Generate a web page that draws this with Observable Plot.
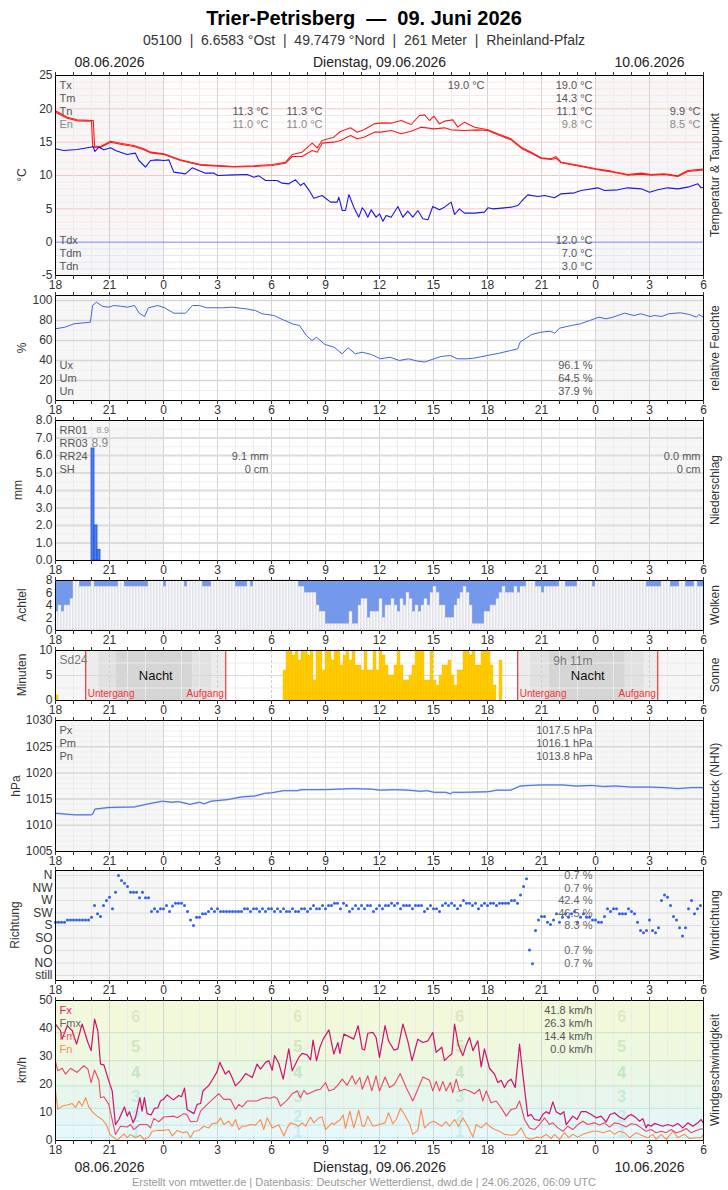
<!DOCTYPE html>
<html><head><meta charset="utf-8">
<script src="https://cdn.jsdelivr.net/npm/d3@7"></script>
<script src="https://cdn.jsdelivr.net/npm/@observablehq/plot@0.6"></script>
<style>
body{margin:0;background:#fff;}
#root{position:relative;width:728px;height:1190px;font-family:"Liberation Sans",Arial,Helvetica,sans-serif;overflow:hidden;background:#fff;}
.t{position:absolute;white-space:pre;line-height:1;}
</style></head><body><div id="root"></div>
<script>
// ---------------- DATA (t = hours since 08.06. 18:00 UTC) ----------------
const title = "Trier-Petrisberg  —  09. Juni 2026";
const subtitle = "05100  |  6.6583 °Ost  |  49.7479 °Nord  |  261 Meter  |  Rheinland-Pfalz";
const footer = "Erstellt von mtwetter.de | Datenbasis: Deutscher Wetterdienst, dwd.de | 24.06.2026, 06:09 UTC";
const dayLabels = [{t:3,s:"08.06.2026"},{t:18,s:"Dienstag, 09.06.2026"},{t:33,s:"10.06.2026"}];
const otherDays = [[0,6],[30,36]];

const tempA = [[0,19.7],[0.65,18.75],[1.2,18.35],[2.1,18.25],[2.17,14.4],[2.5,14.35],[3.06,15.15],[3.61,14.85],[4.35,14.5],[4.91,14.0],[5.28,13.5],[6.02,13.25],[6.94,12.35],[8.06,11.65],[9.02,11.5],[9.91,11.35],[11.02,11.45],[12.04,11.65],[12.78,12.0],[13.15,13.15],[13.7,13.5],[14.26,14.85],[14.54,14.15],[14.81,15.25],[15.46,15.75],[15.83,16.6],[16.39,17.15],[16.76,16.5],[17.13,16.85],[17.72,17.75],[18.09,17.9],[18.65,17.85],[19.2,18.25],[19.76,17.65],[20.22,19.0],[20.5,19.1],[20.78,18.25],[21.02,18.9],[21.33,17.75],[21.61,18.15],[22.07,18.35],[22.35,17.25],[22.72,18.0],[23.28,17.25],[24.02,16.85],[24.57,16.25],[25.31,15.5],[25.87,14.25],[26.43,13.5],[26.98,12.65],[27.54,12.5],[27.81,12.85],[28.09,12.0],[28.83,11.65],[30.04,11.0],[30.87,10.65],[31.8,10.15],[32.54,10.35],[33.09,10.15],[33.83,10.25],[34.57,9.95],[35.13,10.75],[36,10.95]];
const tempB = [[0,19.5],[0.65,18.6],[1.2,18.2],[2.0,18.15],[2.07,14.25],[2.5,14.2],[3.06,15.0],[3.61,14.7],[4.35,14.35],[4.91,13.85],[5.28,13.4],[6.02,13.15],[6.94,12.25],[8.06,11.55],[9.02,11.4],[9.91,11.3],[11.02,11.35],[12.04,11.5],[12.78,11.85],[13.15,12.85],[13.7,12.85],[14.26,13.75],[14.54,13.5],[14.81,14.85],[15.46,15.0],[15.83,15.25],[16.39,16.0],[16.76,15.5],[17.13,15.75],[17.72,16.5],[18.09,16.5],[18.65,16.75],[19.2,16.25],[19.76,16.65],[20.3,17.25],[21.02,17.0],[21.61,17.15],[21.98,16.85],[22.72,16.75],[23.46,16.85],[24.02,16.75],[24.57,16.1],[25.31,15.35],[25.87,14.1],[26.43,13.35],[26.98,12.55],[27.54,12.4],[27.81,12.6],[28.09,11.9],[28.83,11.55],[30.04,10.9],[30.87,10.55],[31.8,10.05],[32.54,10.2],[33.09,10.05],[33.83,10.15],[34.57,9.85],[35.13,10.6],[36,10.85]];
const dewpoint = [[0,14.0],[0.46,13.75],[1.2,13.9],[1.94,14.25],[2.09,14.35],[2.19,13.6],[2.41,14.25],[2.69,13.85],[3.06,14.15],[3.33,13.75],[3.61,13.5],[3.98,13.15],[4.44,13.35],[4.63,12.25],[5.0,11.25],[5.28,12.25],[5.65,12.35],[6.02,12.25],[6.3,12.35],[6.57,10.5],[7.22,10.25],[7.59,11.15],[7.96,10.75],[8.33,10.35],[8.8,10.35],[9.02,10.0],[9.91,10.1],[10.65,10.15],[11.02,9.75],[11.3,9.95],[11.67,9.25],[12.31,9.25],[12.59,8.85],[12.96,8.75],[13.33,9.35],[13.61,8.5],[13.8,8.85],[14.07,7.85],[14.35,6.6],[14.81,7.0],[15.28,6.0],[15.65,6.0],[15.74,6.75],[15.93,4.75],[16.11,4.75],[16.3,7.15],[16.57,5.25],[16.85,3.75],[17.04,5.15],[17.17,4.75],[17.35,3.75],[17.54,4.85],[17.81,3.75],[18.0,4.25],[18.19,3.15],[18.37,4.0],[18.65,3.75],[19.02,5.35],[19.3,3.75],[19.57,4.65],[19.85,3.75],[20.13,4.75],[20.41,3.5],[20.69,3.35],[20.96,5.35],[21.33,4.85],[21.61,5.25],[21.98,6.0],[22.17,4.15],[22.44,5.0],[22.72,4.35],[23.28,4.35],[23.83,4.5],[24.02,5.15],[24.3,5.0],[24.94,5.15],[25.31,5.25],[25.69,5.5],[25.96,6.35],[26.24,7.1],[26.8,6.85],[27.17,7.0],[27.72,6.65],[28.09,7.25],[28.83,7.4],[29.2,7.75],[30.13,8.15],[30.5,7.75],[31.24,7.85],[31.8,8.15],[32.54,8.0],[33.0,7.5],[33.46,7.85],[34.02,8.15],[34.57,8.0],[35.13,8.25],[35.69,8.75],[35.87,8.15],[36,8.25]];
const tempTopNames = ["Tx","Tm","Tn","En"];
const tempTopValues = [{t:24,row:0,s:"19.0 °C"},{t:30,row:0,s:"19.0 °C"},{t:30,row:1,s:"14.3 °C"},{t:30,row:2,s:"11.1 °C"},{t:30,row:3,s:"9.8 °C"},{t:12,row:2,s:"11.3 °C"},{t:12,row:3,s:"11.0 °C"},{t:15,row:2,s:"11.3 °C"},{t:15,row:3,s:"11.0 °C"},{t:36,row:2,s:"9.9 °C"},{t:36,row:3,s:"8.5 °C"}];
const dewNames = ["Tdx","Tdm","Tdn"];
const dewValues = [{t:30,row:0,s:"12.0 °C"},{t:30,row:1,s:"7.0 °C"},{t:30,row:2,s:"3.0 °C"}];

const humidity = [[0,71.7],[0.52,73.3],[1.03,76.7],[1.94,78.3],[2.06,95],[2.27,98.3],[2.63,94],[2.97,93.3],[3.23,95],[3.61,94.3],[4,93.3],[4.39,95],[4.65,87.3],[4.95,84],[5.16,92.7],[5.68,95],[6.06,92.7],[6.58,87.3],[7.23,87.3],[7.61,95],[8,95],[8.39,92.7],[9.29,92.7],[9.81,93.3],[10.58,91.7],[11.1,90],[11.48,86.7],[12.13,85],[12.65,80.7],[13.16,76.7],[13.55,75],[13.94,65],[14.25,60],[14.5,63.3],[14.97,56],[15.48,53.3],[15.92,46.7],[16.26,52.7],[16.65,46.7],[17.03,48.3],[17.55,46],[18.06,41.7],[18.58,43.3],[19.1,40],[19.61,41.7],[20.13,39.3],[20.52,38.5],[21.03,41.7],[21.42,44],[21.94,45],[22.32,41.7],[22.84,41.7],[23.23,42.3],[24,45],[24.65,47.3],[25.29,50],[25.68,51.7],[25.81,58.3],[26.45,66],[26.97,68.3],[27.48,69.3],[27.74,67.3],[28,72.3],[28.65,75],[29.16,76.7],[29.68,80],[30.19,83.3],[30.58,81.7],[30.97,83.3],[31.61,87.3],[32.13,85],[32.52,86.7],[33.03,84],[33.29,85],[33.68,84],[34.06,86.7],[34.71,87.7],[35.23,86],[35.61,83.3],[35.74,86],[36,83.3]];
const humNames = ["Ux","Um","Un"];
const humValues = [{t:30,row:0,s:"96.1 %"},{t:30,row:1,s:"64.5 %"},{t:30,row:2,s:"37.9 %"}];

// precipitation, 10-minute slots
const precip = [{slot:12,mm:6.4},{slot:13,mm:2.0},{slot:14,mm:0.6}];
const precNames = ["RR01","RR03","RR24","SH"];
const precValues = [{t:12,row:2,s:"9.1 mm"},{t:12,row:3,s:"0 cm"},{t:36,row:2,s:"0.0 mm"},{t:36,row:3,s:"0 cm"}];

// cloud cover (octas), 10-minute slots 0..215
const clouds = [
 3,4,3,4,4,5, 8,8,7,7,7,7, 8,7,7,7,7,7, 7,7,7,8,8,7, 7,7,7,7,7,7, 7,8,8,8,8,8,
 7,8,8,8,8,8, 8,7,8,8,8,8, 8,7,7,7,8,8, 8,8,8,8,8,8, 7,7,7,7,8,7, 8,8,8,8,8,8,
 8,8,8,8,8,8, 8,8,8,7,7,6, 6,6,6,4,3,3, 1,1,1,1,1,1, 1,1,3,1,1,4, 5,5,2,3,3,3,
 5,2,4,4,5,4, 3,5,4,6,5,3, 4,3,4,5,4,6, 7,6,4,4,2,2, 2,4,5,6,7,6, 4,1,1,1,1,3,
 3,4,4,5,6,7, 6,6,6,7,6,7, 7,8,8,8,7,7, 6,7,7,7,7,7, 8,8,7,7,7,7, 8,8,8,8,8,7,
 8,8,8,8,8,8, 8,8,8,8,8,8, 8,8,8,8,8,7, 7,7,7,7,8,8, 8,7,7,7,8,8, 7,7,7,8,7,7];

// sunshine minutes per 10-minute slot
const sunEarly = [{slot:0,m:1}];
const sunRunStart = 76;
const sunRun = [6,10,10,9,10,8,10,10,9,10,4,10,10,6,10,10,8,10,10,7,9,10,8,10,7,7,6,10,6,6,10,6,
 10,9,7,5,5,7,10,7,4,4,5,7,10,10,10,4,4,10,4,3,5,7,7,8,5,3,6,6,10,10,9,10,7,7,10,10,10,7,3,0,8];
const nights = [{set:1.68,rise:9.46},{set:25.68,rise:33.46}];
const twilight = [
 {a:1.68,b:2.4,lvl:1},{a:2.4,b:3.37,lvl:2},{a:3.37,b:7.63,lvl:3},{a:7.63,b:8.7,lvl:2},{a:8.7,b:9.46,lvl:1},
 {a:25.68,b:26.37,lvl:1},{a:26.37,b:27.43,lvl:2},{a:27.43,b:31.65,lvl:3},{a:31.65,b:32.7,lvl:2},{a:32.7,b:33.46,lvl:1}];
const sunTotal = "9h 11m";

const pressure = [[0,1012.3],[1.03,1012.0],[1.94,1012.0],[2.06,1012.1],[2.19,1013.1],[2.97,1013.4],[4.39,1013.5],[5.16,1014.1],[5.94,1014.6],[6.45,1014.4],[6.84,1014.5],[7.48,1014.0],[8.0,1014.4],[8.26,1014.1],[8.65,1014.6],[9.55,1014.9],[10.32,1015.4],[11.1,1015.6],[11.61,1016.1],[12.0,1016.2],[12.65,1016.6],[13.42,1016.6],[13.68,1016.8],[14.97,1016.8],[15.74,1016.9],[16.52,1017.0],[17.55,1016.9],[18.06,1016.7],[18.84,1016.8],[19.61,1016.7],[20.26,1016.5],[20.65,1016.6],[21.03,1016.3],[21.68,1016.3],[21.94,1016.0],[22.06,1016.3],[22.71,1016.3],[24.0,1016.4],[24.52,1016.7],[25.29,1016.7],[25.81,1017.5],[26.32,1017.6],[26.97,1017.7],[28.13,1017.7],[28.9,1017.5],[29.81,1017.6],[30.45,1017.4],[31.1,1017.5],[32.0,1017.3],[33.03,1017.3],[33.81,1017.2],[34.58,1017.0],[35.35,1017.2],[36,1017.2]];
const presNames = ["Px","Pm","Pn"];
const presValues = [{t:30,row:0,s:"1017.5 hPa"},{t:30,row:1,s:"1016.1 hPa"},{t:30,row:2,s:"1013.8 hPa"}];

// wind direction (degrees, 0 = still) per 10-minute slot
const windDir = [
 192,192,192,192,200,200, 200,200,200,200,200,200, 210,252,222,212,252,270, 282,240,300,360,342,332,
 320,300,300,300,280,300, 280,280,230,240,230,240, 240,252,230,250,260,260, 260,252,230,200,180,210,
 210,222,222,230,240,230, 240,230,230,230,230,230, 230,230,230,240,240,230, 240,240,230,240,230,240,
 240,230,240,230,240,230, 230,240,230,230,240,240, 230,240,252,240,240,252, 240,252,252,260,260,240,
 260,252,230,240,252,240, 252,240,252,252,230,240, 252,240,252,252,260,252, 260,240,252,252,252,240,
 252,252,252,230,240,252, 240,240,230,252,260,252, 260,252,240,252,270,260, 260,252,260,240,252,260,
 252,260,260,252,260,260, 260,260,270,270,260,290, 320,348,92,42,162,200, 212,212,192,184,200,222,
 192,210,222,210,222,230, 192,210,222,210,210,200, 200,192,192,212,240,230, 240,240,222,222,222,240,
 230,222,192,162,154,162, 200,162,154,172,270,290, 282,252,212,200,172,142, 172,240,270,222,240,252];
const dirCats = [{d:360,n:"N"},{d:315,n:"NW"},{d:270,n:"W"},{d:225,n:"SW"},{d:180,n:"S"},{d:135,n:"SO"},{d:90,n:"O"},{d:45,n:"NO"},{d:0,n:"still"}];
const dirShares = [{d:360,s:"0.7 %"},{d:315,s:"0.7 %"},{d:270,s:"42.4 %"},{d:225,s:"46.5 %"},{d:180,s:"8.3 %"},{d:90,s:"0.7 %"},{d:45,s:"0.7 %"}];

const gust = [[0,41.6],[0.28,39.2],[0.37,36.2],[0.65,41.0],[0.93,39.2],[1.17,34.4],[1.48,41.6],[1.8,35.0],[1.98,32.1],[2.17,43.4],[2.35,39.2],[2.5,27.3],[2.69,27.0],[2.96,21.3],[3.15,17.7],[3.33,5.7],[3.52,7.5],[3.83,12.0],[3.98,8.7],[4.11,10.3],[4.22,8.1],[4.31,6.3],[4.44,8.1],[4.69,15.3],[4.81,10.5],[4.94,15.3],[5.09,9.6],[5.31,9.1],[5.5,11.5],[5.69,11.7],[5.83,14.1],[6.0,14.7],[6.2,16.3],[6.54,14.5],[6.85,16.1],[7.0,15.6],[7.17,18.7],[7.31,11.1],[7.69,9.6],[7.87,12.9],[8.06,13.2],[8.19,17.7],[8.52,19.7],[8.7,21.5],[8.98,24.6],[9.13,27.9],[9.44,23.7],[9.63,24.9],[9.81,22.5],[10.0,19.5],[10.28,21.3],[10.56,23.9],[10.93,22.5],[11.2,27.3],[11.39,25.5],[11.67,27.9],[11.85,28.5],[12.04,25.1],[12.17,30.3],[12.41,27.5],[12.65,21.9],[12.96,32.7],[13.15,24.9],[13.52,29.7],[13.7,31.1],[13.98,30.6],[14.17,28.8],[14.31,35.9],[14.5,28.5],[14.69,33.3],[14.87,36.2],[15.19,39.5],[15.46,30.9],[15.69,35.0],[15.8,31.1],[16.02,38.0],[16.3,37.1],[16.57,36.2],[16.81,41.0],[17.04,32.7],[17.17,32.3],[17.35,38.3],[17.63,38.6],[17.81,36.8],[18.0,29.7],[18.31,41.0],[18.5,35.6],[18.8,32.3],[19.02,32.7],[19.3,41.6],[19.57,35.6],[19.81,28.5],[20.13,36.2],[20.41,35.0],[20.69,35.6],[20.96,38.6],[21.15,31.5],[21.46,33.3],[21.61,28.5],[21.89,30.3],[22.02,30.9],[22.17,41.6],[22.39,33.9],[22.63,30.3],[22.81,33.9],[23.0,36.8],[23.19,32.1],[23.46,35.6],[23.65,26.3],[23.83,32.7],[24.11,25.8],[24.39,23.7],[24.57,20.7],[24.76,21.5],[24.94,18.9],[25.13,21.1],[25.31,21.9],[25.54,18.9],[25.78,34.4],[25.96,23.7],[26.24,8.7],[26.43,9.3],[26.61,7.5],[26.89,7.2],[27.07,9.3],[27.26,10.3],[27.44,9.6],[27.63,13.8],[27.81,10.3],[28.06,9.3],[28.24,10.3],[28.37,5.7],[28.56,7.2],[28.74,8.7],[28.98,7.5],[29.2,10.3],[29.48,10.3],[29.76,9.3],[30.04,8.1],[30.31,8.7],[30.59,6.6],[30.81,9.3],[31.06,9.9],[31.33,8.4],[31.61,7.5],[31.8,8.7],[31.98,9.3],[32.26,8.1],[32.44,6.9],[32.63,7.8],[32.81,4.5],[32.91,5.7],[33.09,5.1],[33.28,6.1],[33.46,5.7],[33.74,5.1],[34.02,5.7],[34.3,5.1],[34.57,6.1],[34.85,4.5],[35.13,6.3],[35.41,5.1],[35.69,6.3],[35.87,7.5],[36,6.1]];
const windMean = [[0,28.2],[0.13,24.9],[0.37,25.8],[0.56,23.7],[0.83,25.8],[1.2,24.3],[1.57,26.7],[1.8,25.5],[1.98,20.7],[2.17,25.2],[2.41,21.5],[2.5,15.3],[2.69,15.6],[2.96,12.9],[3.33,2.2],[3.61,5.1],[3.98,4.8],[4.17,5.7],[4.35,3.9],[4.69,5.7],[5.09,5.7],[5.28,4.5],[5.46,7.9],[5.74,6.7],[6.02,8.4],[6.57,8.7],[6.76,8.1],[7.13,9.6],[7.31,9.1],[7.5,6.7],[7.87,6.9],[8.06,10.5],[8.43,12.9],[8.8,15.1],[9.07,16.7],[9.35,14.7],[9.72,14.7],[10.0,11.1],[10.19,12.9],[10.37,12.0],[10.65,14.1],[11.2,14.1],[11.39,14.7],[11.67,15.3],[11.94,15.1],[12.13,15.6],[12.31,15.1],[12.5,12.3],[12.87,14.4],[13.15,16.7],[13.43,17.7],[13.61,15.3],[13.8,17.9],[13.98,16.5],[14.44,17.9],[14.72,18.3],[15.0,20.7],[15.19,17.7],[15.46,18.3],[15.65,19.5],[15.93,21.9],[16.2,19.7],[16.48,23.1],[16.67,20.1],[16.91,22.5],[17.04,18.3],[17.35,23.1],[17.57,17.7],[17.81,23.1],[18.0,17.7],[18.31,22.7],[18.56,18.9],[18.83,20.1],[19.15,23.9],[19.48,18.9],[19.85,14.1],[20.13,18.3],[20.41,22.7],[20.78,21.5],[20.96,17.7],[21.15,21.1],[21.33,17.7],[21.52,21.1],[21.7,17.7],[21.94,20.7],[22.07,17.1],[22.26,21.9],[22.44,17.7],[22.72,18.3],[23.0,17.7],[23.28,16.7],[23.56,18.3],[23.74,14.1],[23.93,17.7],[24.2,13.5],[24.48,14.1],[24.76,11.7],[25.04,8.7],[25.31,11.1],[25.59,11.5],[25.78,14.1],[26.06,7.5],[26.33,4.5],[26.61,3.9],[26.89,5.7],[27.17,8.1],[27.44,5.7],[27.63,6.3],[27.91,4.5],[28.19,3.3],[28.46,5.1],[28.74,3.9],[29.02,5.7],[29.3,6.9],[29.57,5.7],[29.94,6.3],[30.22,5.5],[30.5,6.3],[30.78,4.8],[31.06,6.3],[31.33,6.0],[31.7,4.8],[31.98,6.0],[32.26,5.7],[32.54,4.5],[32.81,3.3],[33.09,3.9],[33.37,2.8],[33.65,3.3],[33.93,2.8],[34.2,3.9],[34.48,2.8],[34.76,3.3],[35.04,4.3],[35.31,2.8],[35.59,3.6],[35.87,4.2],[36,3.9]];
const windMin = [[0,17.7],[0.13,11.1],[0.37,12.3],[0.65,12.7],[0.93,13.2],[1.11,11.7],[1.3,14.1],[1.48,12.3],[1.67,15.3],[1.85,12.0],[2.04,10.3],[2.31,8.7],[2.59,7.5],[2.83,5.7],[3.02,2.2],[3.24,1.0],[3.43,0],[3.61,1.2],[3.8,2.4],[3.98,1.0],[4.17,2.2],[4.44,1.0],[4.72,1.9],[4.91,0.4],[5.19,1.2],[5.37,3.3],[5.65,3.6],[6.02,3.6],[6.3,3.9],[6.48,1.6],[6.76,3.6],[7.09,2.8],[7.31,3.1],[7.5,1.0],[7.69,3.3],[7.96,3.6],[8.24,5.1],[8.52,4.5],[8.7,6.0],[8.98,6.3],[9.17,8.1],[9.35,5.7],[9.63,6.9],[9.81,5.1],[10.0,7.5],[10.19,3.9],[10.37,5.1],[10.56,5.1],[10.83,5.7],[11.11,5.5],[11.39,7.5],[11.57,3.9],[11.76,8.1],[12.04,4.5],[12.22,5.1],[12.41,5.5],[12.69,1.6],[12.87,4.5],[13.06,6.3],[13.33,5.7],[13.52,5.1],[13.7,6.3],[13.89,5.1],[14.17,8.4],[14.35,6.3],[14.63,8.1],[14.81,8.4],[15.0,3.9],[15.37,6.3],[15.46,5.7],[15.83,7.5],[15.98,9.1],[16.11,4.3],[16.35,10.5],[16.57,4.5],[16.85,10.8],[17.04,5.1],[17.17,5.1],[17.35,8.7],[17.63,5.1],[18.0,5.7],[18.31,6.3],[18.5,9.9],[18.74,6.0],[18.93,7.5],[19.17,11.5],[19.39,9.3],[19.67,6.0],[19.85,2.2],[20.13,3.6],[20.31,11.1],[20.5,4.5],[20.78,6.3],[21.02,6.9],[21.24,6.0],[21.46,5.1],[21.7,6.7],[21.89,5.1],[22.17,7.5],[22.39,5.1],[22.63,8.1],[22.91,5.1],[23.19,1.2],[23.37,5.7],[23.65,4.5],[23.93,6.3],[24.11,5.1],[24.39,3.9],[24.67,3.3],[24.94,2.2],[25.31,1.9],[25.59,2.2],[25.87,4.5],[26.15,1.0],[26.43,0.4],[26.7,1.2],[26.98,1.0],[27.26,2.2],[27.54,0.7],[27.72,2.2],[28.0,0.4],[28.28,2.8],[28.5,1.0],[28.74,2.2],[29.02,1.2],[29.3,2.2],[29.57,2.8],[29.85,3.3],[30.13,3.3],[30.41,2.8],[30.78,3.6],[31.06,2.2],[31.33,3.3],[31.61,2.8],[31.89,1.0],[32.26,2.8],[32.54,1.9],[32.91,1.0],[33.19,2.2],[33.37,0.4],[33.65,2.2],[33.93,0.4],[34.3,3.3],[34.57,1.0],[34.94,2.2],[35.22,0.7],[35.59,1.0],[35.87,1.0],[36,2.2]];
const windNames = [{s:"Fx",c:"#e0157a"},{s:"Fmx",c:"#666"},{s:"Fm",c:"#f05a6e"},{s:"Fn",c:"#ff8a4a"}];
const windValues = [{t:30,row:0,s:"41.8 km/h"},{t:30,row:1,s:"26.3 km/h"},{t:30,row:2,s:"14.4 km/h"},{t:30,row:3,s:"0.0 km/h"}];
const beaufort = [{n:0,lo:0,hi:1},{n:1,lo:1,hi:5.5},{n:2,lo:5.5,hi:11.5},{n:3,lo:11.5,hi:19.5},{n:4,lo:19.5,hi:28.5},{n:5,lo:28.5,hi:38.5},{n:6,lo:38.5,hi:50}];
const bftLabelTimes = [4.45,13.45,22.45,31.45];

// ---------------- RENDER ----------------
const root = document.getElementById("root");
const FONT = '"Liberation Sans", Arial, Helvetica, sans-serif';
function html(text, x, y, o={}) {
  const d = document.createElement("div");
  d.className = "t"; d.textContent = text;
  d.style.left = x + "px"; d.style.top = y + "px";
  d.style.fontSize = (o.size || 12) + "px";
  d.style.color = o.color || "#333";
  if (o.weight) d.style.fontWeight = o.weight;
  d.style.transform = o.rot ? "translate(-50%,-50%) rotate(-90deg)" : "translate(-50%,-50%)";
  root.append(d);
}
html(title, 364, 18, {size:20, weight:"bold", color:"#000"});
html(subtitle, 364, 40, {size:14, color:"#333"});
html(footer, 364, 1182, {size:11, color:"#999"});

const hours = d3.range(0, 37);
const minorH = hours.filter(h => h % 3);
const majorH = hours.filter(h => h % 3 === 0);
const fmtHour = h => (h % 3 === 0 ? String((h + 18) % 24) : "");

function vgrid(dashed) {
  return [Plot.ruleX(minorH, {stroke: "#ebebeb"}),
          Plot.ruleX(majorH, dashed ? {stroke: "#cfcfcf", strokeDasharray: "3,2"} : {stroke: "#d4d4d4"})];
}
function shadeDays(fill = "#f6f6f6") {
  return Plot.rect(otherDays, {x1: d => d[0], x2: d => d[1], fill});
}
function namesTop(names, colors, size = 11) {
  return names.map((s, i) => Plot.text([s], {text: d => d, frameAnchor: "top-left", dx: 4, dy: 10 + 13 * i, lineAnchor: "middle", fill: colors ? colors[i] : "#555", fontSize: size}));
}
function namesBottom(names) {
  const n = names.length;
  return names.map((s, i) => Plot.text([s], {text: d => d, frameAnchor: "bottom-left", dx: 4, dy: -(9 + 13 * (n - 1 - i)), lineAnchor: "middle", fill: "#555", fontSize: 11}));
}
function valsTop(vals, light = []) {
  return vals.map(v => Plot.text([v], {x: d => d.t, text: d => d.s, frameAnchor: "top", textAnchor: "end", lineAnchor: "middle", dx: -3, dy: 10 + 13 * v.row, fill: light.includes(v.row) ? "#888" : "#555", fontSize: 11}));
}
function valsBottom(vals, n) {
  return vals.map(v => Plot.text([v], {x: d => d.t, text: d => d.s, frameAnchor: "bottom", textAnchor: "end", lineAnchor: "middle", dx: -3, dy: -(9 + 13 * (n - 1 - v.row)), fill: "#555", fontSize: 11}));
}

function panel({top, bottom, y, yTicks, yFmt, marks, mt = 10, mb = 20, leftLabel, leftX, rightLabel}) {
  const svg = Plot.plot({
    width: 728, height: bottom - top + mt + mb,
    marginLeft: 55, marginRight: 25, marginTop: mt, marginBottom: mb,
    x: {domain: [0, 36]},
    y: {domain: y},
    style: {background: "transparent", fontFamily: FONT, fontSize: "12px", color: "#333", overflow: "visible"},
    marks: [
      ...marks,
      Plot.frame({stroke: "#000", strokeWidth: 1}),
      Plot.axisX({ticks: hours, tickSize: 4, tickPadding: 1, tickFormat: fmtHour, label: null, fontSize: 12}),
      Plot.axisX({anchor: "top", ticks: hours, tickSize: 4, tickFormat: () => "", label: null}),
      Plot.axisY({ticks: yTicks, tickSize: 0, tickPadding: 3, tickFormat: yFmt || (d => String(d)), label: null, fontSize: 12})
    ]
  });
  svg.style.position = "absolute"; svg.style.left = "0px"; svg.style.top = (top - mt) + "px";
  root.append(svg);
  const cy = (top + bottom) / 2;
  html(leftLabel, leftX, cy, {rot: true, size: 12});
  html(rightLabel, 715, cy, {rot: true, size: 12});
}

// 1. Temperature
panel({top: 75, bottom: 275, y: [-5, 25], yTicks: [-5,0,5,10,15,20,25], mt: 24,
  leftLabel: "°C", leftX: 22, rightLabel: "Temperatur & Taupunkt",
  marks: [
    shadeDays(),
    Plot.ruleY(d3.range(1, 25).filter(v => v % 5), {stroke: "#ffe6e6"}),
    Plot.ruleY([5, 10, 15, 20], {stroke: "#ffc2c2"}),
    Plot.ruleY([-4, -3, -2, -1], {stroke: "#e4e4ff"}),
    ...vgrid(),
    Plot.ruleY([0], {stroke: "#8080ff"}),
    Plot.line(tempB, {x: d => d[0], y: d => d[1], stroke: "#ff1a1a", strokeWidth: 1.1}),
    Plot.line(tempA, {x: d => d[0], y: d => d[1], stroke: "#ff1a1a", strokeWidth: 1.1}),
    Plot.line(dewpoint, {x: d => d[0], y: d => d[1], stroke: "#1414f0", strokeWidth: 1.1}),
    ...namesTop(tempTopNames, ["#555", "#555", "#555", "#888"]),
    ...valsTop(tempTopValues, [3]),
    ...namesBottom(dewNames),
    ...valsBottom(dewValues, 3),
    Plot.text(dayLabels, {x: "t", text: "s", frameAnchor: "top", dy: -13, lineAnchor: "middle", fontSize: 14, fill: "#222"})
  ]});

// 2. Humidity
panel({top: 295, bottom: 400, y: [0, 105], yTicks: [0,20,40,60,80,100],
  leftLabel: "%", leftX: 22, rightLabel: "relative Feuchte",
  marks: [
    shadeDays(),
    Plot.ruleY([10, 30, 50, 70, 90], {stroke: "#efefef"}),
    ...vgrid(),
    Plot.ruleY([20, 40, 60, 80, 100], {stroke: "#d6d6d6", strokeWidth: 1.5}),
    Plot.line(humidity, {x: d => d[0], y: d => d[1], stroke: "#3f66e0", strokeWidth: 1}),
    ...namesBottom(humNames),
    ...valsBottom(humValues, 3)
  ]});

// 3. Precipitation
panel({top: 420, bottom: 560, y: [0, 8], yTicks: d3.range(0, 9), yFmt: d => d.toFixed(1),
  leftLabel: "mm", leftX: 18, rightLabel: "Niederschlag",
  marks: [
    shadeDays(),
    Plot.ruleY(d3.range(0.5, 8, 1), {stroke: "#efefef"}),
    ...vgrid(),
    Plot.ruleY(d3.range(1, 8), {stroke: "#dcdcdc", strokeWidth: 2}),
    Plot.rect(precip, {x1: d => d.slot / 6, x2: d => (d.slot + 1) / 6, y1: 0, y2: d => d.mm, fill: "#4f80f0", stroke: "#1d4fd6", strokeWidth: 0.8}),
    ...namesTop(precNames),
    Plot.text(["8.9"], {text: d => d, frameAnchor: "top-left", dx: 41, dy: 10, lineAnchor: "middle", fill: "#999", fontSize: 9}),
    Plot.text(["8.9"], {text: d => d, frameAnchor: "top-left", dx: 36, dy: 23, lineAnchor: "middle", fill: "#888", fontSize: 12}),
    ...valsTop(precValues)
  ]});

// 4. Clouds
const cloudData = clouds.map((c, i) => ({i, c}));
panel({top: 580, bottom: 630, y: [0, 8], yTicks: [0,2,4,6,8],
  leftLabel: "Achtel", leftX: 22, rightLabel: "Wolken",
  marks: [
    Plot.rect(cloudData, {x1: d => d.i / 6, x2: d => (d.i + 1) / 6, y1: d => d.c, y2: 8, fill: "#7499ea"}),
    Plot.rect(cloudData, {x1: d => d.i / 6, x2: d => (d.i + 1) / 6, y1: 0, y2: d => d.c, fill: "#f8f8fb", stroke: "#c3c6cd", strokeWidth: 0.5})
  ]});

// 5. Sunshine
const sunData = sunEarly.concat(sunRun.map((m, k) => ({slot: sunRunStart + k, m})));
const twFill = {1: "#ececec", 2: "#e1e1e1", 3: "#d5d5d5"};
panel({top: 650, bottom: 700, y: [0, 10], yTicks: [0, 5, 10],
  leftLabel: "Minuten", leftX: 22, rightLabel: "Sonne",
  marks: [
    shadeDays(),
    ...[1, 2, 3].map(l => Plot.rect(twilight.filter(d => d.lvl === l), {x1: "a", x2: "b", fill: twFill[l]})),
    Plot.ruleY([2.5, 7.5], {stroke: "#ececec"}),
    ...vgrid(true),
    Plot.ruleY([5], {stroke: "#d8d8d8"}),
    Plot.rect(sunData, {x1: d => d.slot / 6, x2: d => (d.slot + 1) / 6, y1: 0, y2: d => d.m, fill: "#ffcc00", stroke: "#f2bb00", strokeWidth: 0.4}),
    Plot.ruleX(nights.flatMap(n => [n.set, n.rise]), {stroke: "#ee1111", strokeWidth: 1}),
    Plot.text(nights, {x: d => (d.set + d.rise) / 2, text: () => "Nacht", frameAnchor: "middle", lineAnchor: "middle", fontSize: 13, fill: "#111"}),
    Plot.text(nights, {x: "set", text: () => "Untergang", frameAnchor: "bottom", textAnchor: "start", lineAnchor: "middle", dx: 2, dy: -7, fontSize: 10, fill: "#f03535"}),
    Plot.text(nights, {x: "rise", text: () => "Aufgang", frameAnchor: "bottom", textAnchor: "end", lineAnchor: "middle", dx: -2, dy: -7, fontSize: 10, fill: "#f03535"}),
    ...namesTop(["Sd24"], ["#777"], 12),
    Plot.text([{t: 30, s: sunTotal}], {x: "t", text: "s", frameAnchor: "top", textAnchor: "end", lineAnchor: "middle", dx: -3, dy: 11, fontSize: 12, fill: "#777"})
  ]});

// 6. Pressure
panel({top: 720, bottom: 851, y: [1005, 1030], yTicks: d3.range(1005, 1031, 5),
  leftLabel: "hPa", leftX: 16, rightLabel: "Luftdruck (NHN)",
  marks: [
    shadeDays(),
    Plot.ruleY(d3.range(1006, 1030).filter(v => v % 5), {stroke: "#efefef"}),
    ...vgrid(),
    Plot.ruleY([1010, 1015, 1020, 1025], {stroke: "#d6d6d6", strokeWidth: 1.5}),
    Plot.line(pressure, {x: d => d[0], y: d => d[1], stroke: "#bccbf6", strokeWidth: 1.8}),
    Plot.line(pressure, {x: d => d[0], y: d => d[1], stroke: "#3a62e0", strokeWidth: 0.9}),
    ...namesTop(presNames),
    ...valsTop(presValues)
  ]});

// 7. Wind direction
const dirData = windDir.map((d, i) => ({t: i / 6, d}));
const catName = new Map(dirCats.map(c => [c.d, c.n]));
panel({top: 870, bottom: 980, y: [-18, 378], yTicks: dirCats.map(c => c.d), yFmt: d => catName.get(d),
  leftLabel: "Richtung", leftX: 15, rightLabel: "Windrichtung",
  marks: [
    shadeDays(),
    ...vgrid(),
    Plot.ruleY(dirCats.map(c => c.d), {stroke: "#dedede"}),
    Plot.dot(dirData, {x: "t", y: "d", r: 1.5, fill: "#2f5ff0", stroke: "none"}),
    Plot.text(dirShares, {x: () => 30, y: "d", text: "s", textAnchor: "end", dx: -3, fill: "#666", fontSize: 11})
  ]});

// 8. Wind speed
const bftFill = ["#eefcfd", "#e7f8fa", "#e5f6f4", "#e7f6ec", "#e9f7e4", "#eef8df", "#f2f9da"];
const bftLine = ["#bde6ea", "#bfe4e4", "#c2e4d6", "#c6e2c8", "#cfe0bc", "#d6dfb8"];
const bftText = ["", "#c5ecf5", "#c3ebeb", "#c6ebd6", "#c5e6c5", "#d0e6bd", "#dfe6c5"];
const bftLabels = beaufort.filter(b => b.n > 0).flatMap(b => bftLabelTimes.map(t => ({t, v: (b.lo + b.hi) / 2, n: b.n})));
panel({top: 1000, bottom: 1140, y: [0, 50], yTicks: [0,10,20,30,40,50], mb: 38,
  leftLabel: "km/h", leftX: 22, rightLabel: "Windgeschwindigkeit",
  marks: [
    ...beaufort.map(b => Plot.rect([b], {y1: "lo", y2: "hi", fill: bftFill[b.n]})),
    ...vgrid(),
    ...beaufort.slice(0, 6).map(b => Plot.ruleY([b.hi], {stroke: bftLine[b.n]})),
    ...[1,2,3,4,5,6].map(n => Plot.text(bftLabels.filter(d => d.n === n), {x: "t", y: "v", text: d => String(d.n), fill: bftText[n], fontSize: 16, fontWeight: "bold"})),
    Plot.line(windMin, {x: d => d[0], y: d => d[1], stroke: "#ff8a4a", strokeWidth: 1.1}),
    Plot.line(windMean, {x: d => d[0], y: d => d[1], stroke: "#ea4664", strokeWidth: 1.1}),
    Plot.line(gust, {x: d => d[0], y: d => d[1], stroke: "#d0106e", strokeWidth: 1.2}),
    ...namesTop(windNames.map(d => d.s), windNames.map(d => d.c)),
    ...valsTop(windValues),
    Plot.text(dayLabels, {x: "t", text: "s", frameAnchor: "bottom", dy: 27, lineAnchor: "middle", fontSize: 14, fill: "#222"})
  ]});
</script></body></html>
